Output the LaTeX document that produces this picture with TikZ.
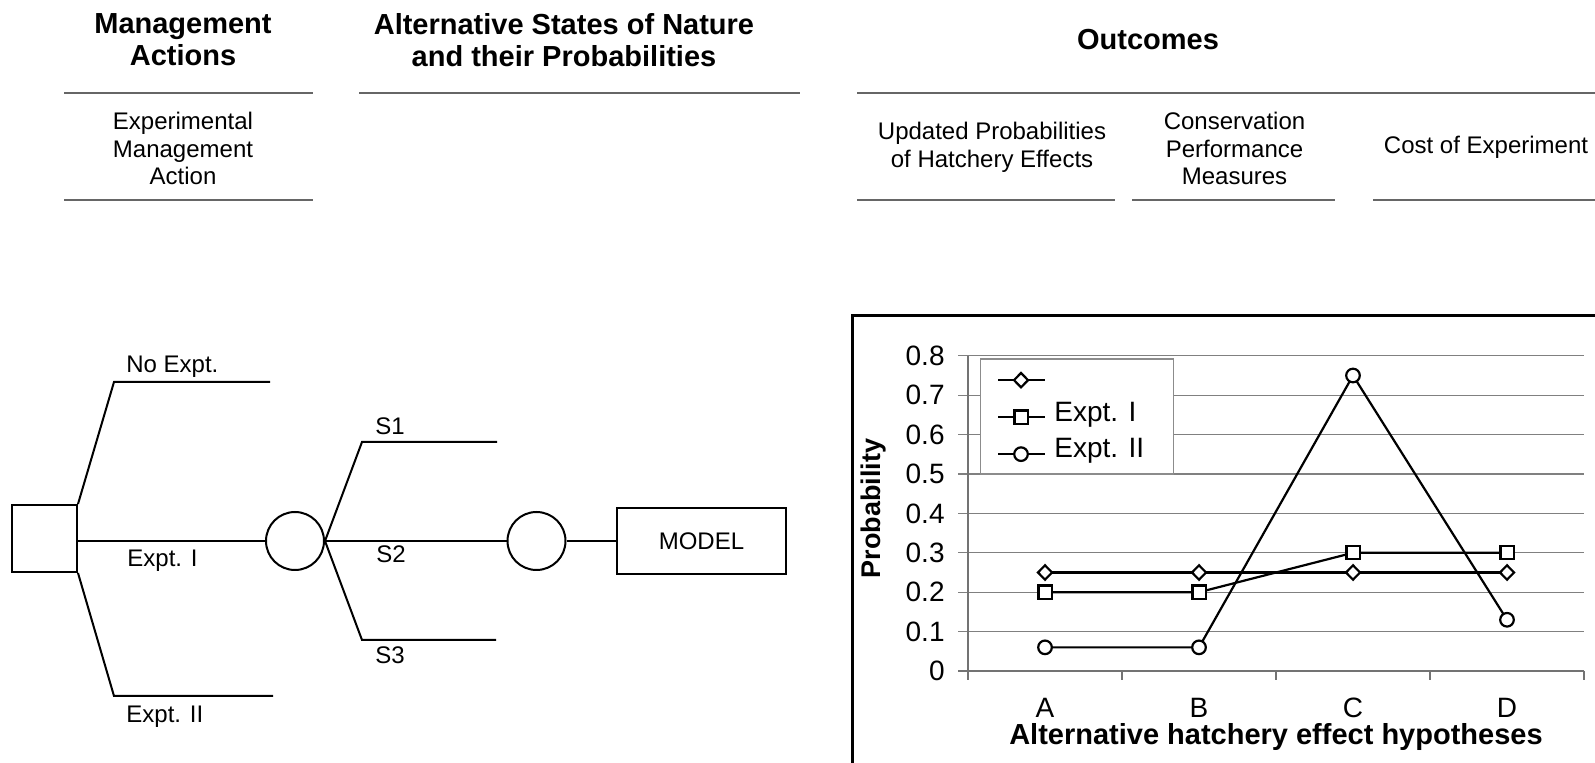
\documentclass[tikz,border=0pt]{standalone}
\usepackage{fontspec}
\setmainfont{Liberation Sans}
\usetikzlibrary{positioning,plotmarks}
\tikzset{%
      header/.style={font=\fontsize{14.5}{16}\selectfont\bfseries, align=center, anchor=north, inner sep=0pt},
      colhead/.style={font=\fontsize{12}{13.8}\selectfont, align=center, anchor=north, inner sep=0pt},
      rule/.style={draw, line width=0.7pt, color=black!60},
      line/.style={draw, line width=1pt, color=black},
      decision/.style={draw, line width=1pt, minimum width=32.5pt, minimum height=33.5pt, inner sep=0pt},
      chance/.style={draw, circle, line width=1pt, minimum size=29pt, inner sep=0pt},
      model/.style={draw, line width=1pt, minimum width=84.5pt, minimum height=33pt, inner sep=0pt, font=\fontsize{12}{14}\selectfont},
      branchlab/.style={anchor=base west, inner sep=0pt, font=\fontsize{12}{14}\selectfont},
      grid/.style={draw, line width=0.6pt, color=black!50},
      axis/.style={draw, line width=0.7pt, color=black!55},
      ticklab/.style={anchor=east, inner sep=0pt, font=\fontsize{14}{16}\selectfont},
      catlab/.style={anchor=base, inner sep=0pt, font=\fontsize{14}{16}\selectfont},
      leglab/.style={anchor=base west, inner sep=0pt, font=\fontsize{14}{16}\selectfont},
      series/.style={draw, line width=1.1pt},
      dmark/.style={mark=diamond*, mark size=3.6pt, mark options={fill=white, xscale=1.3}},
      smark/.style={mark=square*, mark size=3.3pt, mark options={fill=white}},
      cmark/.style={mark=*, mark size=3.4pt, mark options={fill=white}},
      legendbox/.style={draw=black!45, line width=0.7pt, fill=white, minimum width=96.5pt, minimum height=57.5pt, inner sep=0pt, anchor=north west},
    }
\newcommand{\fork}[3]{%
      \path [line] (#1) -- (#2) -- (#3);}

\begin{document}
\begin{tikzpicture}[x=0.5pt, y=-0.5pt]
      \useasboundingbox (0,0) rectangle (1595,763);

      % Column headings
      \node (hmgmt) [header] at (183,13) {Management\\Actions};
      \node (hstates) [header] at (564,13) {Alternative States of Nature\\and their Probabilities};
      \node (hout) [header] at (1148,29) {Outcomes};

      \node (cexp) [colhead] at (183,112) {Experimental\\Management\\Action};
      \node (cupd) [colhead] at (992,122) {Updated Probabilities\\of Hatchery Effects};
      \node (ccons) [colhead] at (1234.5,112) {Conservation\\Performance\\Measures};
      \node (ccost) [colhead] at (1486,136) {Cost of Experiment};

      \path [rule] (64,93) -- (313,93);
      \path [rule] (359,93) -- (800,93);
      \path [rule] (857,93) -- (1595,93);
      \path [rule] (64,200) -- (313,200);
      \path [rule] (857,200) -- (1115,200);
      \path [rule] (1132,200) -- (1335,200);
      \path [rule] (1373,200) -- (1595,200);

      % Draw decision tree elements
      \node (act) [decision] at (44.5,538.5) {};
      \node (c1) [chance] at (295,541) {};
      \node (c2) [chance] at (536.5,541) {};
      \node (mod) [model] at (701.5,541) {MODEL};

      \coordinate (k0) at (114,382);
      \coordinate (e0) at (270,382);
      \coordinate (k1) at (act.east |- c1);
      \coordinate (k2) at (114,696);
      \coordinate (e2) at (273,696);
      \coordinate (s1k) at (362,442);
      \coordinate (s1e) at (497,442);
      \coordinate (s3k) at (362,640);
      \coordinate (s3e) at (496,640);

      % Draw branches
      \fork{act.north east}{k0}{e0}
      \path [line] (k1) -- (c1);
      \fork{act.south east}{k2}{e2}
      \fork{c1.east}{s1k}{s1e}
      \path [line] (c1) -- (c2);
      \fork{c1.east}{s3k}{s3e}
      \path [line] (c2) -- (mod);

      \path (k0)+(12,-9) node (lno) [branchlab] {No Expt.};
      \path (k1)+(49,26) node (lone) [branchlab] {Expt. I};
      \path (k2)+(12,27) node (ltwo) [branchlab] {Expt. II};
      \path (s1k)+(13,-7) node (ls1) [branchlab] {S1};
      \path (c1.east)+(51,22) node (ls2) [branchlab] {S2};
      \path (s3k)+(13,24) node (ls3) [branchlab] {S3};

      % Chart frame
      \draw [line width=1.5pt] (852,763) -- (852,316) -- (1595,316);

      \begin{scope}[shift={(968,671)}, x=77pt, y=197pt]
        % grid and axes
        \foreach \v [count=\i] in {0,0.1,0.2,0.3,0.4,0.5,0.6,0.7,0.8} {
          \path [grid] (-0.065,\v) -- (4,\v);
          \node (tick\i) [ticklab] at ([xshift=-6.5pt]-0.065,\v) {\v};
        }
        \path [axis] (0,0) -- (0,0.8);
        \path [axis] (-0.065,0) -- (4,0);
        \foreach \k in {0,...,4}
          \path [axis] (\k,0) -- ++(0,-4.5pt);
        \foreach \c [count=\k] in {A,B,C,D}
          \node (cat\c) [catlab] at ([yshift=-23.5pt]\k-0.5,0) {\c};

        \node (xtitle) [catlab, font=\fontsize{14.5}{16}\selectfont\bfseries] at ([yshift=-37pt]2,0) {Alternative hatchery effect hypotheses};
        \node (ytitle) [anchor=base, inner sep=0pt, rotate=90, font=\fontsize{13.5}{16}\selectfont\bfseries] at ([xshift=-44pt]0,0.412) {Probability};

        % data series
        \draw [series, dmark] plot coordinates {(0.5,0.25) (1.5,0.25) (2.5,0.25) (3.5,0.25)};
        \draw [series, smark] plot coordinates {(0.5,0.2) (1.5,0.2) (2.5,0.3) (3.5,0.3)};
        \draw [series, cmark] plot coordinates {(0.5,0.06) (1.5,0.06) (2.5,0.75) (3.5,0.13)};

        % legend
        \node (leg) [legendbox] at (0.078,0.794) {};
        \path (leg.north west)+(9pt,-11pt) coordinate (l1a) +(20.5pt,-11pt) coordinate (l1m) +(32.5pt,-11pt) coordinate (l1b);
        \path (leg.north west)+(9pt,-29.5pt) coordinate (l2a) +(20.5pt,-29.5pt) coordinate (l2m) +(32.5pt,-29.5pt) coordinate (l2b);
        \path (leg.north west)+(9pt,-48pt) coordinate (l3a) +(20.5pt,-48pt) coordinate (l3m) +(32.5pt,-48pt) coordinate (l3b);
        \draw [series, dmark, mark indices={2}] plot coordinates {(l1a) (l1m) (l1b)};
        \draw [series, smark, mark indices={2}] plot coordinates {(l2a) (l2m) (l2b)};
        \draw [series, cmark, mark indices={2}] plot coordinates {(l3a) (l3m) (l3b)};
        \path (leg.north west)+(37pt,-31.5pt) node (leg2) [leglab] {Expt. I};
        \path (leg.north west)+(37pt,-49.5pt) node (leg3) [leglab] {Expt. II};
      \end{scope}

\end{tikzpicture}
\end{document}
